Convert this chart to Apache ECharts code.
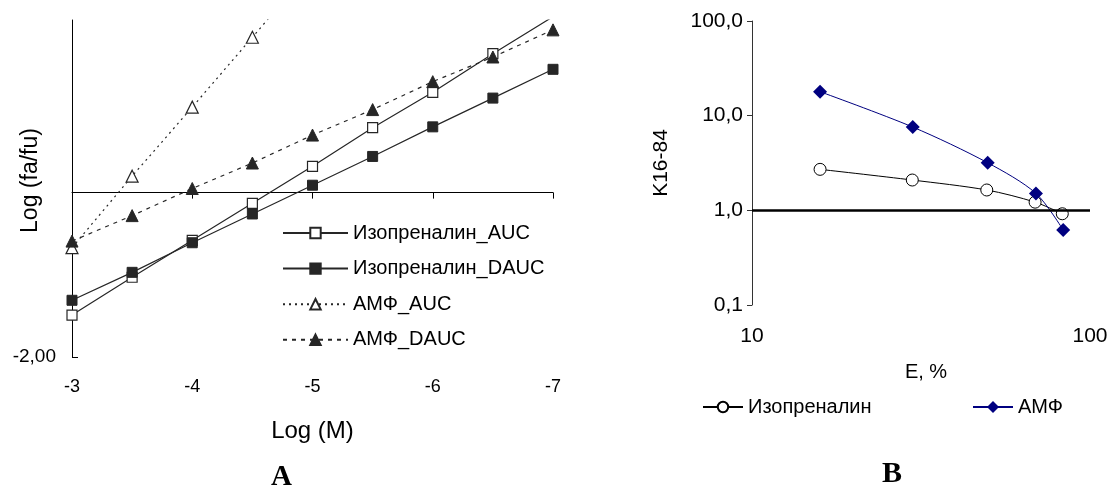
<!DOCTYPE html>
<html>
<head>
<meta charset="utf-8">
<script src="https://cdn.jsdelivr.net/npm/echarts@6/dist/echarts.min.js"></script>
<style>
html,body{margin:0;padding:0;background:#fff;}
#c{width:1111px;height:488px;}
</style>
</head>
<body>
<div id="c"></div>
<script>
// ---------- Chart A data ----------
const logM = [-3, -3.5, -4, -4.5, -5, -5.5, -6, -6.5, -7];
const isoAUC  = [-1.49, -1.03, -0.58, -0.13, 0.32, 0.79, 1.22, 1.69, 2.14];
const isoDAUC = [-1.31, -0.97, -0.61, -0.26, 0.09, 0.44, 0.80, 1.15, 1.50];
const amfAUC_logM = [-3, -3.5, -4, -4.5, -5];
const amfAUC  = [-0.67, 0.20, 1.04, 1.89, 2.74];
const amfDAUC = [-0.59, -0.28, 0.05, 0.36, 0.70, 1.01, 1.35, 1.65, 1.98];
const namesA = ['Изопреналин_AUC', 'Изопреналин_DAUC', 'АМФ_AUC', 'АМФ_DAUC'];
const yTicksA = [-2];

// ---------- Chart B data ----------
const E_iso = [15.9, 29.8, 49.5, 68.8, 82.8];
const K_iso = [2.71, 2.09, 1.64, 1.22, 0.92];
const E_amf = [15.9, 29.9, 49.8, 69.2, 83.3];
const K_amf = [17.9, 7.58, 3.18, 1.51, 0.62];
const namesB = ['Изопреналин', 'АМФ'];
const K_cross = 1;

const zip = (xs, ys) => xs.map((x, i) => [x, ys[i]]);
const F = 'Arial, "Liberation Sans", sans-serif';
const DK = '#262626';

const chart = echarts.init(document.getElementById('c'), null, {renderer: 'canvas'});
chart.setOption({
  backgroundColor: '#fff',
  animation: false,
  textStyle: {fontFamily: F, color: '#000'},
  grid: [
    {left: 72, right: 558, top: 20, bottom: 131, containLabel: false, outerBoundsMode: 'none'},
    {left: 752, right: 21, top: 21, bottom: 183, containLabel: false, outerBoundsMode: 'none'}
  ],
  xAxis: [
    { // axis line crossing at y = 0 (ticks only)
      gridIndex: 0, type: 'value', min: -7, max: -3, interval: 1, inverse: true,
      position: 'bottom',
      axisLine: {show: true, onZero: true, lineStyle: {color: '#000', width: 1}},
      axisTick: {show: true, length: 6, lineStyle: {color: '#000'}},
      axisLabel: {show: false}, splitLine: {show: false}
    },
    { // labels at bottom
      gridIndex: 0, type: 'value', min: -7, max: -3, interval: 1, inverse: true,
      position: 'bottom',
      axisLine: {show: false, onZero: false}, axisTick: {show: false},
      axisLabel: {show: true, fontSize: 18, margin: 21, color: '#000', fontFamily: F},
      splitLine: {show: false},
      name: 'Log (M)', nameLocation: 'middle', nameGap: 62, nameMoveOverlap: false,
      nameTextStyle: {fontSize: 24, color: '#000', fontFamily: F}
    },
    {
      gridIndex: 1, type: 'log', logBase: 10, min: 10, max: 100,
      axisLine: {show: false}, axisTick: {show: false},
      axisLabel: {show: true, fontSize: 21, margin: 21, color: '#000', fontFamily: F},
      splitLine: {show: false},
      name: 'E, %', nameLocation: 'middle', nameGap: 57, nameMoveOverlap: false,
      nameTextStyle: {fontSize: 20, color: '#000', fontFamily: F, padding: [0, 0, 0, 10]}
    }
  ],
  yAxis: [
    {
      gridIndex: 0, type: 'value', min: -2, max: 2.1,
      axisLine: {show: true, onZero: false, lineStyle: {color: '#000', width: 1}},
      axisTick: {show: true, inside: true, length: 6, customValues: yTicksA, lineStyle: {color: '#000'}},
      axisLabel: {show: true, customValues: yTicksA, fontSize: 19, margin: 16, color: '#000', fontFamily: F,
        formatter: v => v.toFixed(2).replace('.', ',')},
      splitLine: {show: false},
      name: 'Log (fa/fu)', nameLocation: 'middle', nameGap: 30, nameRotate: 90, nameMoveOverlap: false,
      nameTextStyle: {fontSize: 23, color: '#000', fontFamily: F, padding: [0, 0, 0, 16]}
    },
    {
      gridIndex: 1, type: 'log', logBase: 10, min: 0.1, max: 100,
      axisLine: {show: true, onZero: false, lineStyle: {color: '#333', width: 1}},
      axisTick: {show: true, length: 5, lineStyle: {color: '#333'}},
      axisLabel: {show: true, fontSize: 21, margin: 9, color: '#000', fontFamily: F,
        formatter: v => Number(v).toFixed(1).replace('.', ',')},
      splitLine: {show: false},
      name: 'K16-84', nameLocation: 'middle', nameGap: 80, nameRotate: 90, nameMoveOverlap: false,
      nameTextStyle: {fontSize: 21, color: '#000', fontFamily: F}
    }
  ],
  legend: [
    {
      data: namesA, orient: 'vertical', left: 277, top: 218,
      itemWidth: 65, itemHeight: 13, itemGap: 15.6,
      textStyle: {fontSize: 20, lineHeight: 20, color: '#000', fontFamily: F},
      selectedMode: false
    },
    {
      data: [namesB[0]], left: 697, top: 392, itemWidth: 40, itemHeight: 13,
      textStyle: {fontSize: 20, lineHeight: 20, color: '#000', fontFamily: F}, selectedMode: false
    },
    {
      data: [namesB[1]], left: 967, top: 392, itemWidth: 40, itemHeight: 15,
      textStyle: {fontSize: 20, lineHeight: 20, color: '#000', fontFamily: F}, selectedMode: false
    }
  ],
  graphic: [
    {type: 'text', left: 271, top: 463, style: {text: 'A', font: 'bold 29px "Liberation Serif", "Times New Roman", serif', fill: '#000'}},
    {type: 'text', left: 882, top: 459, style: {text: 'B', font: 'bold 30px "Liberation Serif", "Times New Roman", serif', fill: '#000'}}
  ],
  series: [
    {
      name: namesA[0], type: 'line', xAxisIndex: 0, yAxisIndex: 0,
      data: zip(logM, isoAUC), symbol: 'rect', symbolSize: 10, clip: true,
      lineStyle: {color: DK, width: 1.2},
      itemStyle: {color: '#fff', borderColor: DK, borderWidth: 1.2}
    },
    {
      name: namesA[1], type: 'line', xAxisIndex: 0, yAxisIndex: 0,
      data: zip(logM, isoDAUC), symbol: 'rect', symbolSize: 10, clip: true,
      lineStyle: {color: DK, width: 1.2},
      itemStyle: {color: DK, borderColor: DK, borderWidth: 1}
    },
    {
      name: namesA[2], type: 'line', xAxisIndex: 0, yAxisIndex: 0,
      data: zip(amfAUC_logM, amfAUC), symbol: 'triangle', symbolSize: 12, clip: true,
      lineStyle: {color: DK, width: 1.2, type: [2, 4]},
      itemStyle: {color: '#fff', borderColor: DK, borderWidth: 1.2}
    },
    {
      name: namesA[3], type: 'line', xAxisIndex: 0, yAxisIndex: 0,
      data: zip(logM, amfDAUC), symbol: 'triangle', symbolSize: 12, clip: true,
      lineStyle: {color: DK, width: 1.2, type: [4, 5]},
      itemStyle: {color: DK, borderColor: DK, borderWidth: 1}
    },
    {
      name: namesB[0], type: 'line', xAxisIndex: 2, yAxisIndex: 1,
      data: zip(E_iso, K_iso), symbol: 'circle', symbolSize: 12, smooth: 0.3,
      lineStyle: {color: '#000', width: 1},
      itemStyle: {color: '#fff', borderColor: '#000', borderWidth: 1},
      markLine: {
        silent: true, symbol: 'none', label: {show: false},
        lineStyle: {color: '#000', width: 2.5, type: 'solid'},
        data: [{yAxis: K_cross}]
      },
      z: 3
    },
    {
      name: namesB[1], type: 'line', xAxisIndex: 2, yAxisIndex: 1,
      data: zip(E_amf, K_amf), symbol: 'diamond', symbolSize: 14, smooth: 0.3,
      lineStyle: {color: '#000080', width: 1},
      itemStyle: {color: '#000080'},
      z: 4
    }
  ]
});
</script>
</body>
</html>
